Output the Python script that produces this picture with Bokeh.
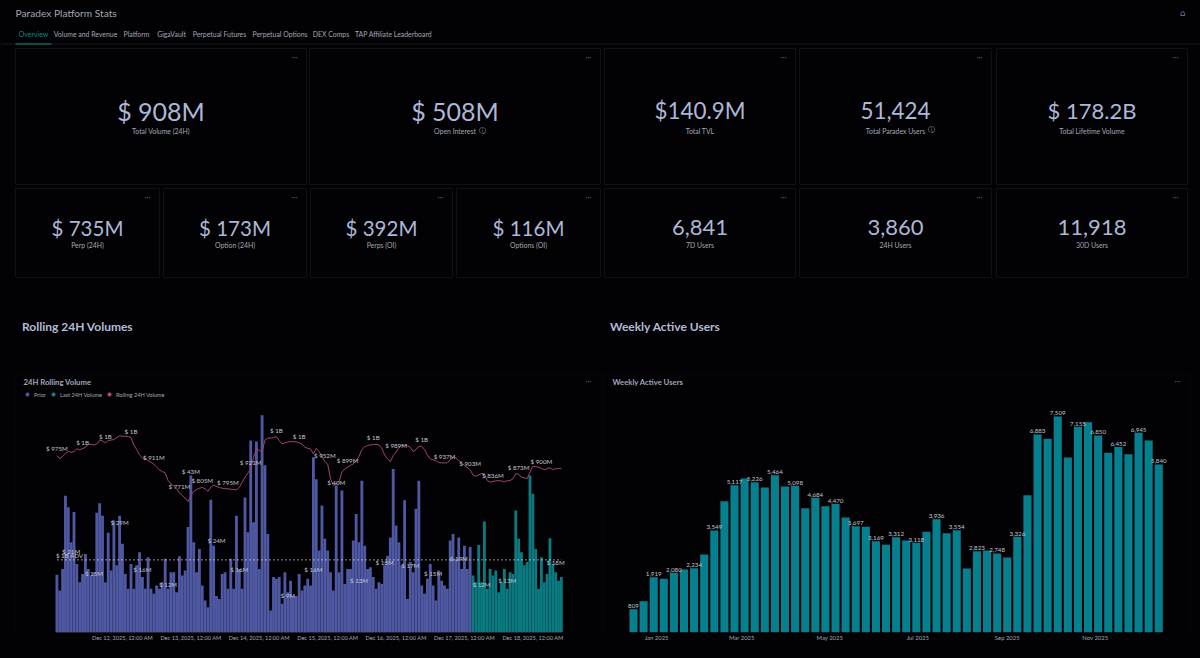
from datetime import datetime, timedelta
from bokeh.plotting import figure
from bokeh.layouts import column, row
from bokeh.core.properties import value
from bokeh.models import Range1d, FixedTicker, Legend, LegendItem, BoxAnnotation, DatetimeAxis
from bokeh.embed import file_html
from bokeh.resources import INLINE

# ---------- data ----------
page_title = "Paradex Platform Stats"
tabs = ["Overview", "Volume and Revenue", "Platform", "GigaVault", "Perpetual Futures",
        "Perpetual Options", "DEX Comps", "TAP Affiliate Leaderboard"]
kpi_top_values = ["$ 908M", "$ 508M", "$140.9M", "51,424", "$ 178.2B"]
kpi_top_labels = ["Total Volume (24H)", "Open Interest", "Total TVL", "Total Paradex Users", "Total Lifetime Volume"]
kpi_bottom_values = ["$ 735M", "$ 173M", "$ 392M", "$ 116M", "6,841", "3,860", "11,918"]
kpi_bottom_labels = ["Perp (24H)", "Option (24H)", "Perps (OI)", "Options (OI)", "7D Users", "24H Users", "30D Users"]
section_titles = ["Rolling 24H Volumes", "Weekly Active Users"]

hourly_volume_m = [
    15.8, 11.5, 17.4, 37.5, 34.3, 24.7, 33, 18.8, 13.8, 16, 21.5, 17.4, 15.6, 16.5, 32.8, 35.4, 32, 13.8, 27.3, 17,
    30.7, 18.4, 32, 24.3, 16, 12, 18.8, 12, 18.4, 22, 15.2, 12, 20.6, 12, 10.6, 12.9, 12, 13.8, 20.2, 12,
    16.5, 16.5, 11, 20.9, 15.6, 17, 28.9, 43, 24.7, 16.5, 22.9, 12.9, 8.8, 6.9, 36.4, 23.8, 10, 9.2, 16, 16.5,
    12, 20.2, 12, 32, 17.4, 12, 37, 27.5, 52.6, 30.2, 52.3, 17.4, 59.5, 45.8, 27, 6, 15.2, 14.7, 15.2, 7.9,
    16.5, 11, 14.2, 10, 10, 16, 11.5, 12.9, 14.7, 12.9, 48, 42, 22.5, 34.8, 25.7, 22.5, 16.5, 11.5, 40.3, 16.5,
    38.9, 13.3, 17.4, 17.4, 25.2, 32.5, 24.7, 41.6, 23.8, 17.4, 17.9, 15.2, 12, 13.8, 13.3, 18.4, 21, 26, 44.8, 29.3,
    24.7, 18.4, 36.2, 9.2, 19.3, 16.5, 33.9, 41.6, 12.9, 10.6, 14.7, 18.8, 12.9, 8.8, 17, 14.2, 12.9, 12, 25.2, 27,
    20.2, 26, 17.4, 23.8, 17.4, 23.4, 15.6, 13.8, 24, 13.8, 30.4, 12, 17.4, 15.6, 17, 11, 13.8, 17.4, 12, 16.5,
    16, 33.4, 25.7, 22, 18.4, 19.3, 43, 38, 22.9, 12, 20.6, 13.8, 16, 25.8, 18.8, 16.5, 14.2, 15.2,
]
rolling_24h_m = [
    947, 934, 944, 955, 962, 959, 962, 973, 969, 974, 978, 991, 990, 988, 992, 1007, 1004, 996, 1005, 1007,
    1009, 1017, 1024, 1022, 1022, 1021, 1017, 988, 970, 949, 938, 933, 927, 921, 913, 901, 890, 884, 879, 849,
    836, 827, 817, 800, 791, 780, 767, 791, 806, 814, 819, 822, 817, 807, 823, 831, 826, 822, 819, 817,
    817, 815, 814, 813, 822, 843, 862, 878, 895, 940, 973, 966, 962, 1007, 1015, 1015, 1017, 1021, 1005, 992,
    996, 1000, 1001, 1001, 1000, 996, 992, 979, 975, 972, 953, 975, 962, 944, 923, 914, 856, 830, 836, 845,
    882, 895, 901, 908, 914, 927, 943, 970, 981, 986, 988, 990, 990, 988, 975, 949, 934, 923, 947, 960,
    978, 986, 988, 985, 979, 962, 970, 983, 983, 970, 949, 934, 930, 926, 919, 918, 918, 918, 931, 938,
    938, 927, 918, 908, 900, 891, 871, 866, 871, 877, 875, 849, 843, 845, 848, 849, 847, 845, 848, 849,
    856, 875, 874, 862, 860, 856, 882, 905, 903, 901, 897, 891, 895, 899, 892, 895, 896, 897,
]
last_24h_first_hour = 146
adv_level_m = 19.9
adv_label = "$ 1B ADV"
volume_label_hours = [5, 13, 22, 30, 39, 47, 56, 64, 81, 90, 98, 106, 115, 124, 132, 141, 149, 158, 175]
volume_label_texts = ["$ 21M", "$ 15M", "$ 29M", "$ 16M", "$ 12M", "$ 43M", "$ 24M", "$ 16M", "$ 9M", "$ 16M", "$ 40M",
                      "$ 13M", "$ 18M", "$ 17M", "$ 15M", "$ 19M", "$ 12M", "$ 13M", "$ 18M"]
volume_label_values = [21, 15, 29, 16, 12, 43, 24, 16, 9, 16, 40, 13, 18, 17, 15, 19, 12, 13, 18]
rolling_label_hours = [0, 9, 17, 26, 34, 43, 51, 60, 68, 77, 85, 94, 102, 111, 119, 128, 136, 145, 153, 162, 170]
rolling_label_texts = ["$ 975M", "$ 1B", "$ 1B", "$ 1B", "$ 911M", "$ 771M", "$ 805M", "$ 795M", "$ 921M", "$ 1B", "$ 1B",
                       "$ 952M", "$ 899M", "$ 1B", "$ 989M", "$ 1B", "$ 937M", "$ 903M", "$ 836M", "$ 873M", "$ 900M"]
hourly_ticks = [datetime(2025, 12, d) for d in range(12, 19)]
hourly_tick_labels = [f"Dec {d}, 2025, 12:00 AM" for d in range(12, 19)]

weekly_users = [
    809, 1089, 1919, 1865, 2080, 2190, 2234, 2711, 3549, 4565, 5117, 5353, 5226, 5040, 5464, 5075, 5098, 4322, 4684,
    4391, 4470, 3997, 3697, 3673, 3169, 3047, 3312, 3198, 3118, 3499, 3936, 3453, 3554, 2224, 2823, 2850, 2748, 2607,
    3326, 4773, 6883, 6731, 7509, 6083, 7155, 7311, 6850, 6245, 6452, 6199, 6945, 6674, 5840,
]
weekly_ticks = [datetime(2025, m, 1) for m in (1, 3, 5, 7, 9, 11)]
weekly_tick_labels = ["Jan 2025", "Mar 2025", "May 2025", "Jul 2025", "Sep 2025", "Nov 2025"]

# ---------- style and layout ----------
BG = "#020205"
CARD = "#0f1115"
VALUE = "#aeb7d6"
LABEL = "#a3a6b4"
TEAL = "#0b8a8c"
BLUE = "#4f58a2"
BAR_TEAL = "#0a7a80"
WEEK_TEAL = "#06808f"
PINK = "#a1456f"
FONT = value("Lato")
ICON_FONT = value("DejaVu Sans")
W, H = 1200, 658
SPLIT_Y = 372
SPLIT_X = 602
BASE_Y = 632
NAN = float("nan")
TRANSPARENT = dict(background_fill_alpha=0, border_fill_alpha=0, outline_line_color=None)

EPOCH = datetime(1970, 1, 1)
def ms(d):
    return (d - EPOCH).total_seconds() * 1000

# ---------- top part ----------
top = figure(width=W, height=SPLIT_Y, x_range=Range1d(0, W), y_range=Range1d(SPLIT_Y, 0),
             output_backend="svg", toolbar_location=None, min_border=0, **TRANSPARENT)
top.axis.visible = False
top.grid.visible = False

top.text([15], [12.5], [page_title], text_font=FONT, text_font_size="10.2px", text_color=LABEL,
         text_baseline="middle")
tab_x = [33, 85, 136, 171, 219, 279.5, 330.5, 393]
top.text(tab_x, [33.5] * len(tabs), tabs, text_font=FONT, text_font_size="6.9px",
         text_color=[TEAL] + [LABEL] * (len(tabs) - 1), text_align="center", text_baseline="middle")
top.segment([0], [43.5], [W], [43.5], line_color="#15171c", line_width=1)
top.segment([15], [43.5], [51], [43.5], line_color=TEAL, line_width=1)
top.text([1182], [12], ["\u2302"], text_font=ICON_FONT, text_font_size="9px", text_color="#777a88",
         text_align="center", text_baseline="middle")

top_cards = [(15, 306), (309, 600), (604, 795), (799, 991), (996, 1187)]
bottom_cards = [(15, 159), (163, 306), (310, 452), (456, 600), (604, 795), (799, 991), (996, 1187)]

def draw_cards(cards, y0, y1, values, labels, value_y, label_y, sizes):
    lefts = [c[0] for c in cards]
    rights = [c[1] for c in cards]
    centers = [(a + b) / 2 for a, b in cards]
    top.quad(left=lefts, right=rights, top=[y0] * len(cards), bottom=[y1] * len(cards),
             fill_color=None, line_color=CARD, line_width=1)
    for cx, val, size in zip(centers, values, sizes):
        top.text([cx], [value_y], [val], text_font=FONT, text_font_size=size, text_color=VALUE,
                 text_align="center", text_baseline="middle")
    top.text(centers, [label_y] * len(cards), labels, text_font=FONT, text_font_size="6.9px", text_color=LABEL,
             text_align="center", text_baseline="middle")
    top.text([b - 12 for b in rights], [y0 + 8] * len(cards), ["\u00b7\u00b7\u00b7"] * len(cards),
             text_font=FONT, text_font_size="8px", text_color="#5c5f6a", text_align="center", text_baseline="middle")

draw_cards(top_cards, 48, 184, kpi_top_values, kpi_top_labels, 110, 130.5,
           ["25px", "25px", "22.4px", "22.4px", "22px"])
draw_cards(bottom_cards, 188, 277, kpi_bottom_values, kpi_bottom_labels, 227, 244.5,
           ["20.5px", "20.5px", "20.5px", "20.5px", "22px", "22px", "22px"])
top.text([482, 931], [130.5, 129.5], ["\u24d8", "\u24d8"], text_font=ICON_FONT, text_font_size="7px", text_color=LABEL,
         text_align="center", text_baseline="middle")
top.text([21.5, 609.5], [325.5, 325.5], section_titles, text_font=FONT, text_font_size="12px", text_font_style="bold",
         text_color="#b4bbd6", text_baseline="middle")

# ---------- hourly chart ----------
hour0 = datetime(2025, 12, 11, 1)
hours = [hour0 + timedelta(hours=i) for i in range(len(hourly_volume_m))]
HOUR_PX = 2.85
FIRST_PX = 56.4
VOL_PX = 3.65
left_x = Range1d(ms(hour0 - timedelta(hours=FIRST_PX / HOUR_PX)),
                 ms(hour0 + timedelta(hours=(SPLIT_X - FIRST_PX) / HOUR_PX)))
left = figure(width=SPLIT_X, height=H - SPLIT_Y, x_range=left_x, y_range=Range1d(0, (BASE_Y - SPLIT_Y) / VOL_PX),
              output_backend="svg", toolbar_location=None, min_border=0, min_border_bottom=H - BASE_Y,
              x_axis_type=None, **TRANSPARENT)
left.grid.visible = False
left.yaxis.visible = False
left.extra_y_ranges["rolling"] = Range1d(255.5, 1271)
xa = DatetimeAxis(ticker=FixedTicker(ticks=[ms(d) for d in hourly_ticks]),
                  major_label_overrides={ms(d): t for d, t in zip(hourly_ticks, hourly_tick_labels)},
                  axis_line_color=None, major_tick_line_color=None, minor_tick_line_color=None,
                  major_tick_out=0, major_tick_in=0, minor_tick_out=0,
                  major_label_text_font="Lato", major_label_text_font_size="5.6px", major_label_text_color=LABEL,
                  major_label_standoff=1)
left.add_layout(xa, "below")
bar_w = 3600000 * 1.0
n_prior = last_24h_first_hour
left.vbar(x=hours[:n_prior], top=hourly_volume_m[:n_prior], width=bar_w, bottom=0, color=BLUE, line_color=None)
left.vbar(x=hours[n_prior:], top=hourly_volume_m[n_prior:], width=bar_w, bottom=0, color=BAR_TEAL, line_color=None)
left.line(x=[hours[0], hours[-1]], y=[0, 0], line_color="#33363f", line_width=1)
left.line(x=hours, y=rolling_24h_m, y_range_name="rolling", line_color=PINK, line_width=1)
left.line(x=[hours[0], hours[-1]], y=[adv_level_m, adv_level_m], line_color="#d8d8d8", line_width=0.7,
          line_dash=[2, 2])
left.text([hours[0]], [adv_level_m], [adv_label], text_font=FONT, text_font_size="6.2px", text_color="#c8c8c8",
          text_baseline="bottom", y_offset=-1, x_offset=-1)
left.text(x=[hours[i] for i in volume_label_hours], y=volume_label_values, text=volume_label_texts, text_font=FONT,
          text_font_size="6.2px", text_color="#c2c4cc", text_align="center", text_baseline="bottom", y_offset=-1)
left.text(x=[hours[i] for i in rolling_label_hours], y=[rolling_24h_m[i] for i in rolling_label_hours],
          text=rolling_label_texts, y_range_name="rolling", text_font=FONT, text_font_size="6.2px",
          text_color="#c2c4cc", text_align="center", text_baseline="bottom", y_offset=-3)
r1 = left.scatter([NAN], [NAN], size=7, color=BLUE, marker="circle")
r2 = left.scatter([NAN], [NAN], size=7, color=TEAL, marker="circle")
r3 = left.scatter([NAN], [NAN], size=7, color="#b04f85", marker="circle")
legend = Legend(items=[LegendItem(label="Prior", renderers=[r1]),
                       LegendItem(label="Last 24H Volume", renderers=[r2]),
                       LegendItem(label="Rolling 24H Volume", renderers=[r3])],
                orientation="horizontal", location=(23, 234), padding=0, margin=0, spacing=3,
                glyph_width=8, glyph_height=8, label_standoff=3, label_text_font="Lato",
                label_text_font_size="5.6px", label_text_color=LABEL, background_fill_alpha=0,
                border_line_color=None, label_height=8, label_width=0)
left.add_layout(legend, "center")

# ---------- weekly chart ----------
week0 = datetime(2024, 12, 16)
weeks = [week0 + timedelta(days=7 * i) for i in range(len(weekly_users))]
DAY_PX = 1.443
WEEK_FIRST_PX = 633 - SPLIT_X
USER_PX = 0.02877
right_w = W - SPLIT_X
right_x = Range1d(ms(week0 - timedelta(days=WEEK_FIRST_PX / DAY_PX)),
                  ms(week0 + timedelta(days=(right_w - WEEK_FIRST_PX) / DAY_PX)))
right = figure(width=right_w, height=H - SPLIT_Y, x_range=right_x, y_range=Range1d(0, (BASE_Y - SPLIT_Y) / USER_PX),
               output_backend="svg", toolbar_location=None, min_border=0, min_border_bottom=H - BASE_Y,
               x_axis_type=None, **TRANSPARENT)
right.grid.visible = False
right.yaxis.visible = False
xb = DatetimeAxis(ticker=FixedTicker(ticks=[ms(d) for d in weekly_ticks]),
                  major_label_overrides={ms(d): t for d, t in zip(weekly_ticks, weekly_tick_labels)},
                  axis_line_color=None, major_tick_line_color=None, minor_tick_line_color=None,
                  major_tick_out=0, major_tick_in=0, minor_tick_out=0,
                  major_label_text_font="Lato", major_label_text_font_size="5.9px", major_label_text_color=LABEL,
                  major_label_standoff=1)
right.add_layout(xb, "below")
right.vbar(x=weeks, top=weekly_users, width=5.6 * 86400000, bottom=0, color=WEEK_TEAL, line_color=None)
lab_idx = list(range(0, len(weekly_users), 2))
right.text(x=[weeks[i] for i in lab_idx], y=[weekly_users[i] for i in lab_idx],
           text=[f"{weekly_users[i]:,}" for i in lab_idx], text_font=FONT, text_font_size="6.2px",
           text_color="#c2c4cc", text_align="center", text_baseline="bottom", y_offset=-1)

# ---------- chart cards and titles, in canvas pixels ----------
for fig, x0, x1, title in ((left, 15, 601, "24H Rolling Volume"), (right, 2, 588, "Weekly Active Users")):
    fig.add_layout(BoxAnnotation(left=x0, right=x1, top=2, bottom=280, left_units="canvas", right_units="canvas",
                                 top_units="canvas", bottom_units="canvas", fill_alpha=0, line_color=CARD,
                                 line_width=1))
    fig.text([fig.x_range.start + (fig.x_range.end - fig.x_range.start) * (x0 + 8) / fig.width],
             [fig.y_range.end - (fig.y_range.end - fig.y_range.start) * 9.5 / (BASE_Y - SPLIT_Y)], [title],
             text_font=FONT, text_font_size="7.7px", text_font_style="bold", text_color="#a0a5ba", text_baseline="middle")
    fig.text([fig.x_range.start + (fig.x_range.end - fig.x_range.start) * (x1 - 13) / fig.width],
             [fig.y_range.end - (fig.y_range.end - fig.y_range.start) * 8 / (BASE_Y - SPLIT_Y)], ["\u00b7\u00b7\u00b7"],
             text_font=FONT, text_font_size="8px", text_color="#5c5f6a", text_align="center", text_baseline="middle")

root = column(top, row(left, right, spacing=0), spacing=0,
              styles={"position": "fixed", "left": "0", "top": "0", "background-color": BG})
open("out.html", "w").write(file_html(root, INLINE))
